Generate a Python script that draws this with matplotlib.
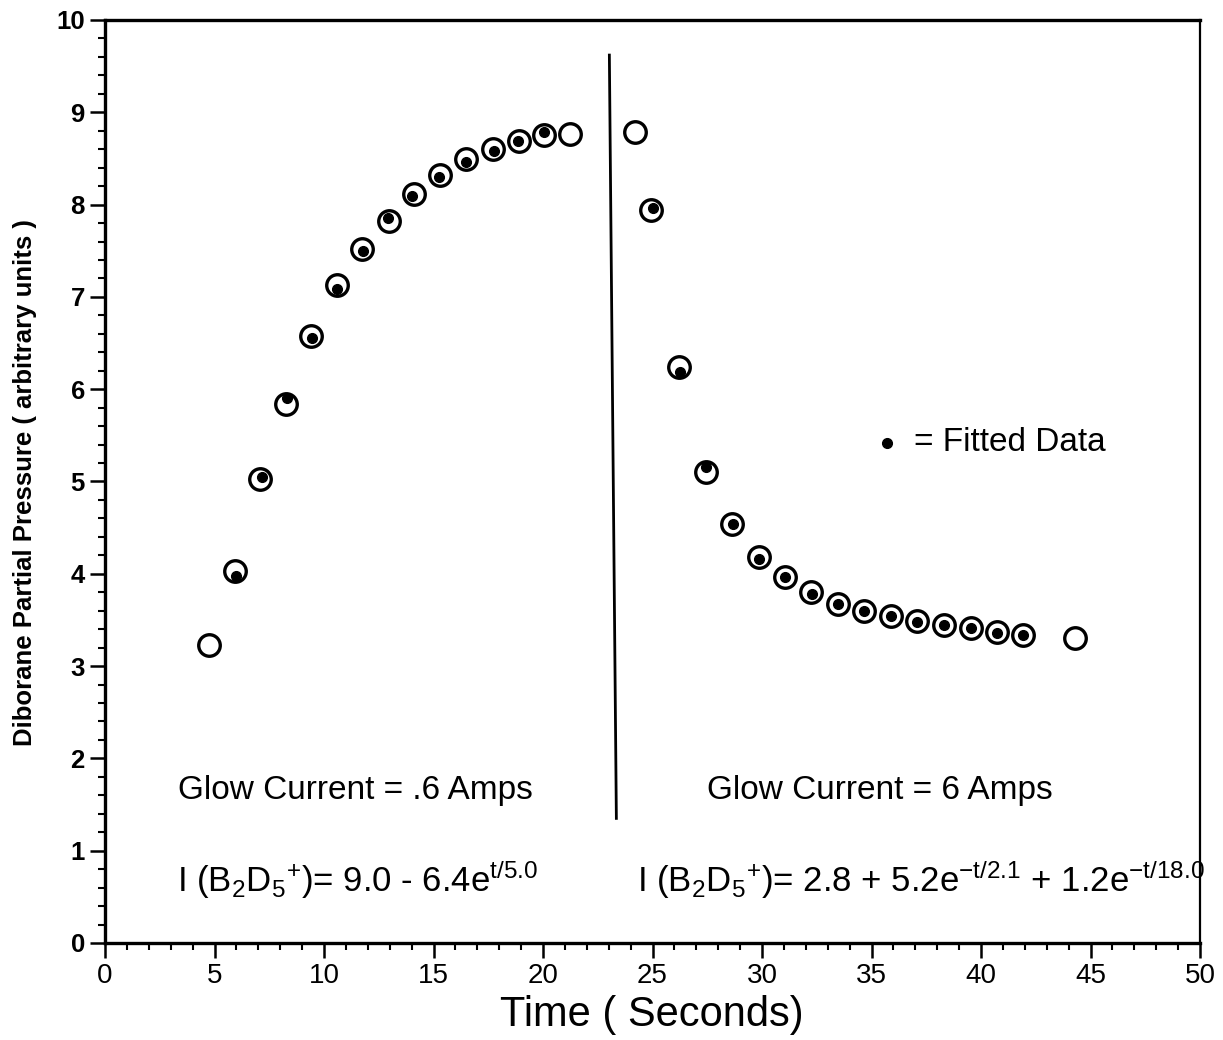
import numpy as np
import matplotlib.pyplot as plt
from matplotlib.ticker import MultipleLocator

plt.rcParams['font.family'] = ['Liberation Sans', 'DejaVu Sans']
plt.rcParams['mathtext.fontset'] = 'custom'
plt.rcParams['mathtext.rm'] = 'Liberation Sans'
plt.rcParams['mathtext.it'] = 'Liberation Sans:italic'
plt.rcParams['mathtext.bf'] = 'Liberation Sans:bold'

# measured data (open circles), glow current .6 A
t_low = [4.77, 5.93, 7.10, 8.26, 9.40, 10.58, 11.73, 12.97, 14.10, 15.29,
         16.48, 17.71, 18.89, 20.06, 21.25]
p_low = [3.23, 4.03, 5.03, 5.84, 6.58, 7.13, 7.52, 7.82, 8.12, 8.32,
         8.49, 8.60, 8.69, 8.75, 8.76]
# fitted points (filled dots), glow current .6 A
t_low_fit = [5.96, 7.16, 8.30, 9.43, 10.60, 11.78, 12.92, 14.04, 15.26,
             16.48, 17.74, 18.85, 20.04]
p_low_fit = [3.98, 5.05, 5.90, 6.56, 7.09, 7.50, 7.86, 8.09, 8.30,
             8.46, 8.58, 8.69, 8.79]

# measured data, glow current 6 A
t_high = [24.22, 24.91, 26.19, 27.43, 28.64, 29.85, 31.07, 32.25, 33.47,
          34.67, 35.88, 37.08, 38.30, 39.53, 40.75, 41.94, 44.30]
p_high = [8.79, 7.94, 6.24, 5.10, 4.54, 4.18, 3.96, 3.80, 3.67,
          3.60, 3.54, 3.49, 3.45, 3.41, 3.37, 3.34, 3.30]
# fitted points, glow current 6 A
t_high_fit = [25.00, 26.24, 27.43, 28.68, 29.85, 31.07, 32.28, 33.47,
              34.67, 35.88, 37.08, 38.30, 39.53, 40.75, 41.94]
p_high_fit = [7.96, 6.19, 5.16, 4.54, 4.16, 3.96, 3.78, 3.67,
              3.60, 3.54, 3.48, 3.44, 3.41, 3.36, 3.34]

fig = plt.figure(figsize=(12.23, 10.40), dpi=100)
ax = fig.add_axes([105 / 1223, 97 / 1040, 1095 / 1223, 923 / 1040])

# open circles = measured, black dots = fit
circle_kw = dict(ls='none', marker='o', ms=15.5, mfc='white', mec='black',
                 mew=2.4, zorder=3)
dot_kw = dict(ls='none', marker='o', ms=7, color='black', zorder=4)
ax.plot(t_low, p_low, **circle_kw)
ax.plot(t_high, p_high, **circle_kw)
ax.plot(t_low_fit, p_low_fit, **dot_kw)
ax.plot(t_high_fit, p_high_fit, **dot_kw)

# line where the glow current was switched
ax.plot([23.03, 23.35], [9.62, 1.35], color='black', lw=2)

ax.set_xlim(0, 50)
ax.set_ylim(0, 10)
ax.xaxis.set_major_locator(MultipleLocator(5))
ax.xaxis.set_minor_locator(MultipleLocator(1))
ax.yaxis.set_major_locator(MultipleLocator(1))
ax.yaxis.set_minor_locator(MultipleLocator(0.2))
ax.tick_params(which='major', direction='out', length=10.5, width=1.8,
               pad=4, top=False, right=False)
ax.tick_params(which='minor', direction='out', length=5, width=1.5,
               top=False, right=False)
ax.tick_params(axis='x', labelsize=20)
ax.tick_params(axis='y', labelsize=18.5)
for lab in ax.get_yticklabels():
    lab.set_fontweight('bold')
for side in ['left', 'bottom', 'top']:
    ax.spines[side].set_linewidth(2.4)
ax.spines['right'].set_linewidth(1.6)

fig.text(25 / 1223, 1 - 483 / 1040,
         'Diborane Partial Pressure ( arbitrary units )',
         rotation=90, ha='center', va='center', fontsize=18.5,
         fontweight='bold')
fig.text(652 / 1223, 1 - 1015 / 1040, 'Time ( Seconds)',
         ha='center', va='center', fontsize=30)

ax.text(3.35, 1.56, 'Glow Current = .6 Amps', fontsize=24, va='baseline')
ax.text(27.5, 1.56, 'Glow Current = 6 Amps', fontsize=24, va='baseline')
ax.text(3.3, 0.55, r'I (B$_2$D$_5$$^{+}$)= 9.0 - 6.4e$^{\mathrm{t/5.0}}$',
        fontsize=25, va='baseline')
ax.text(24.3, 0.55,
        r'I (B$_2$D$_5$$^{+}$)= 2.8 + 5.2e$^{\mathrm{-t/2.1}}$'
        r' + 1.2e$^{\mathrm{-t/18.0}}$',
        fontsize=25, va='baseline', clip_on=False)

ax.plot([35.73], [5.42], **dot_kw)
ax.text(36.93, 5.42, '= Fitted Data', fontsize=24, va='center')

fig.savefig('out.png', dpi=100, facecolor='white')
